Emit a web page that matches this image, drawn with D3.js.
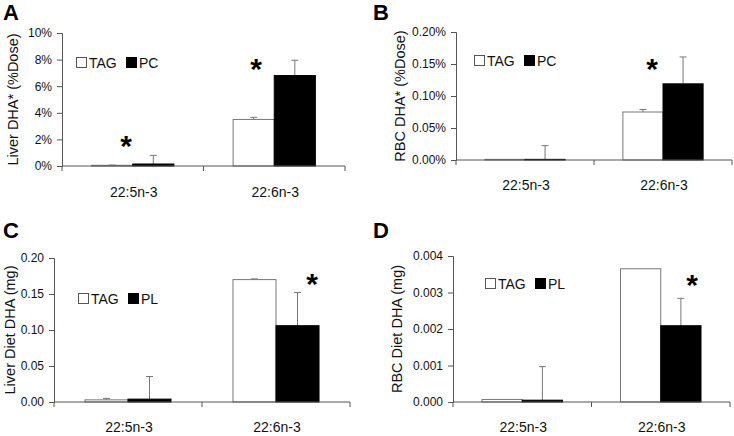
<!DOCTYPE html>
<html><head><meta charset="utf-8">
<script src="https://cdn.jsdelivr.net/npm/d3@7"></script>
<style>
body{margin:0;background:#fff;}
svg{display:block;font-family:"Liberation Sans",Arial,sans-serif;}
</style></head>
<body><svg id="c" width="734" height="436"></svg>
<script>
// ---- data ----
const categories = ["22:5n-3", "22:6n-3"];
const seriesAB = ["TAG", "PC"];
const seriesCD = ["TAG", "PL"];

const liverDoseTAG = [0.0005, 0.035];
const liverDosePC  = [0.0015, 0.068];
const liverDoseTAGErr = [0.0007, 0.0366];
const liverDosePCErr  = [0.008, 0.0795];

const rbcDoseTAG = [0.00001, 0.00075];
const rbcDosePC  = [0.00001, 0.00119];
const rbcDoseTAGErr = [0.00001, 0.00079];
const rbcDosePCErr  = [0.000224, 0.00161];

const liverDietTAG = [0.003, 0.170];
const liverDietPL  = [0.004, 0.106];
const liverDietTAGErr = [0.005, 0.171];
const liverDietPLErr  = [0.0354, 0.152];

const rbcDietTAG = [0.00007, 0.00365];
const rbcDietPL  = [0.00005, 0.00209];
const rbcDietTAGErr = [0.00007, 0.00365];
const rbcDietPLErr  = [0.00097, 0.00284];

const ticksA = [0, 0.02, 0.04, 0.06, 0.08, 0.10];
const ticksB = [0, 0.0005, 0.0010, 0.0015, 0.0020];
const ticksC = [0, 0.05, 0.10, 0.15, 0.20];
const ticksD = [0, 0.001, 0.002, 0.003, 0.004];

const sigA = [true, true];
const sigB = [false, true];
const sigC = [false, true];
const sigD = [false, true];

// ---- layout ----
const panels = [
  {letter:"A", lx:3, ly:20, x0:62, x1:345, yTop:33, yBot:166, max:0.10, ticks:ticksA, fmt:d3.format(".0%"),
   ylabel:"Liver DHA* (%Dose)", ylx:13, series:seriesAB, vals:[liverDoseTAG, liverDosePC], errs:[liverDoseTAGErr, liverDosePCErr],
   sig:sigA, sigPos:[[126,156],[256,79]], legX:76, legY:57, catY:197},
  {letter:"B", lx:373, ly:20, x0:456, x1:732, yTop:32, yBot:160, max:0.0020, ticks:ticksB, fmt:d3.format(".2%"),
   ylabel:"RBC DHA* (%Dose)", ylx:400, series:seriesAB, vals:[rbcDoseTAG, rbcDosePC], errs:[rbcDoseTAGErr, rbcDosePCErr],
   sig:sigB, sigPos:[null,[652,79]], legX:474, legY:55, catY:190},
  {letter:"C", lx:3, ly:238, x0:54, x1:350, yTop:258, yBot:402, max:0.20, ticks:ticksC, fmt:d3.format(".2f"),
   ylabel:"Liver Diet DHA (mg)", ylx:10, series:seriesCD, vals:[liverDietTAG, liverDietPL], errs:[liverDietTAGErr, liverDietPLErr],
   sig:sigC, sigPos:[null,[312,294]], legX:78, legY:293, catY:432},
  {letter:"D", lx:373, ly:238, x0:453, x1:730, yTop:256, yBot:402, max:0.004, ticks:ticksD, fmt:d3.format(".3f"),
   ylabel:"RBC Diet DHA (mg)", ylx:397, series:seriesCD, vals:[rbcDietTAG, rbcDietPL], errs:[rbcDietTAGErr, rbcDietPLErr],
   sig:sigD, sigPos:[null,[692,295]], legX:485, legY:278, catY:432}
];

const svg = d3.select("#c");
const axisCol = "#555";
const fills = ["#fff", "#000"];

panels.forEach(p => {
  const g = svg.append("g");
  const x = d3.scaleBand().domain(categories).range([p.x0, p.x1]).padding(0);
  const xi = d3.scaleBand().domain(p.series).range([0, x.bandwidth()]).paddingInner(0).paddingOuter(0.72);
  const y = d3.scaleLinear().domain([0, p.max]).range([p.yBot, p.yTop]);

  g.append("text").attr("x", p.lx).attr("y", p.ly).attr("font-size", 22).attr("font-weight", "bold").text(p.letter);

  const ya = g.append("g").attr("transform", `translate(${p.x0},0)`)
    .call(d3.axisLeft(y).tickValues(p.ticks).tickFormat(p.fmt).tickSize(5).tickPadding(5));
  ya.select(".domain").attr("stroke", axisCol);
  ya.selectAll(".tick line").attr("stroke", axisCol);
  ya.selectAll(".tick text").attr("font-size", 12).attr("fill", "#111").attr("font-family", "Liberation Sans, Arial, sans-serif");

  g.append("text").attr("transform", `translate(${p.ylx},${(p.yTop + p.yBot) / 2}) rotate(-90)`)
    .attr("text-anchor", "middle").attr("dominant-baseline", "central").attr("font-size", 14.5).attr("fill", "#111")
    .text(p.ylabel);

  p.series.forEach((s, si) => {
    categories.forEach((c, ci) => {
      const v = p.vals[si][ci], e = p.errs[si][ci];
      const bx = x(c) + xi(s), bw = xi.bandwidth();
      const cx = bx + bw / 2;
      if (e > v) {
        g.append("line").attr("x1", cx).attr("x2", cx).attr("y1", y(v)).attr("y2", y(e)).attr("stroke", "#777");
        g.append("line").attr("x1", cx - 3.5).attr("x2", cx + 3.5).attr("y1", y(e)).attr("y2", y(e)).attr("stroke", "#777");
      }
      g.append("rect").attr("x", bx).attr("y", y(v)).attr("width", bw).attr("height", Math.max(0, y(0) - y(v)))
        .attr("fill", fills[si]).attr("stroke", si === 0 ? "#777" : "#000").attr("stroke-width", 1);
    });
  });

  g.append("line").attr("x1", p.x0).attr("x2", p.x1).attr("y1", p.yBot).attr("y2", p.yBot).attr("stroke", axisCol);
  const bounds = categories.map(c => x(c)).concat([x(categories[categories.length - 1]) + x.bandwidth()]);
  bounds.forEach(b => {
    g.append("line").attr("x1", b).attr("x2", b).attr("y1", p.yBot).attr("y2", p.yBot + 5).attr("stroke", axisCol);
  });
  categories.forEach(c => {
    g.append("text").attr("x", x(c) + x.bandwidth() / 2 + 1).attr("y", p.catY).attr("text-anchor", "middle")
      .attr("font-size", 14).attr("fill", "#111").text(c);
  });

  p.sig.forEach((s, i) => {
    if (!s) return;
    const pos = p.sigPos[i];
    g.append("text").attr("x", pos[0]).attr("y", pos[1]).attr("text-anchor", "middle")
      .attr("font-size", 30).attr("font-weight", "bold").text("*");
  });

  const lg = g.append("g").attr("transform", `translate(${p.legX},${p.legY})`);
  const offs = [0, 50];
  p.series.forEach((s, si) => {
    lg.append("rect").attr("x", offs[si] + 0.5).attr("y", 0.5).attr("width", 10).attr("height", 10)
      .attr("fill", fills[si]).attr("stroke", si === 0 ? "#555" : "#000");
    lg.append("text").attr("x", offs[si] + 13).attr("y", 10.5).attr("font-size", 14).attr("fill", "#111").text(s);
  });
});
</script>
</body></html>
